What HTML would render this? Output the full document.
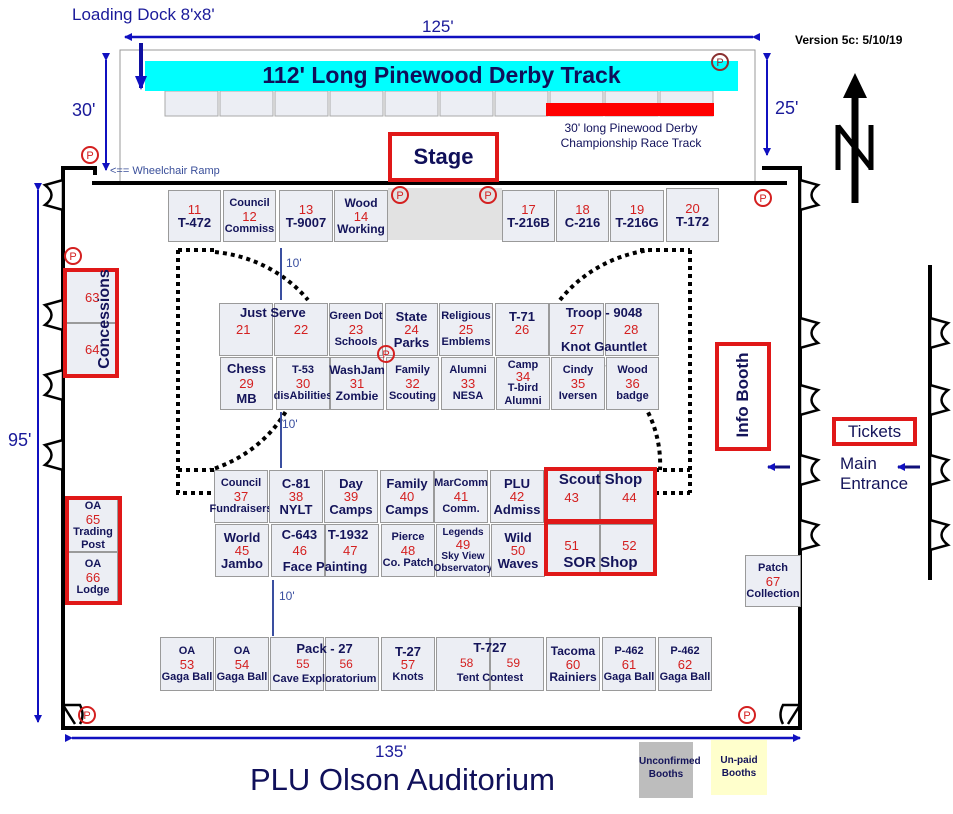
<!DOCTYPE html>
<html><head><meta charset="utf-8"><style>
body{margin:0;width:953px;height:814px;background:#fff;position:relative;overflow:hidden;font-family:"Liberation Sans",sans-serif}
.a{position:absolute}
.b{position:absolute;background:#eceef4;border:1px solid #9a9a9a;box-sizing:border-box;text-align:center;font-weight:bold;color:#14145a;font-size:11px;line-height:13px;display:flex;flex-direction:column;justify-content:center;align-items:center;overflow:visible;white-space:nowrap}
.b i{font-style:normal;font-weight:normal;color:#d42020;font-size:13px}
.big{font-size:13px}
.rb{position:absolute;border:4px solid #e01818;box-sizing:border-box}
</style></head><body>
<svg class="a" style="left:0;top:0" width="953" height="814">
<defs>
<marker id="ah" markerWidth="8" markerHeight="8" refX="7" refY="4" orient="auto" markerUnits="userSpaceOnUse"><path d="M0,0 L8,4 L0,8 z" fill="#1010c0"/></marker>
<marker id="ah2" markerWidth="14" markerHeight="12" refX="12" refY="6" orient="auto" markerUnits="userSpaceOnUse"><path d="M0,0 L14,6 L0,12 z" fill="#1010c0"/></marker>
</defs>
<rect x="120" y="50" width="635" height="132" fill="#fff" stroke="#999" stroke-width="1"/>
<g fill="#eceef4" stroke="#aaa">
<rect x="165" y="91" width="53" height="25"/><rect x="220" y="91" width="53" height="25"/><rect x="275" y="91" width="53" height="25"/><rect x="330" y="91" width="53" height="25"/><rect x="385" y="91" width="53" height="25"/><rect x="440" y="91" width="53" height="25"/><rect x="495" y="91" width="53" height="25"/><rect x="550" y="91" width="53" height="25"/><rect x="605" y="91" width="53" height="25"/><rect x="660" y="91" width="53" height="25"/>
</g>
<rect x="145" y="61" width="593" height="30" fill="#00ffff"/>
<rect x="546" y="103" width="168" height="13" fill="#ff0000"/>
<line x1="753" y1="37" x2="125" y2="37" stroke="#1010c0" stroke-width="2.5" marker-end="url(#ah)" marker-start="url(#ah)"/>
<line x1="141" y1="43" x2="141" y2="88" stroke="#1010a0" stroke-width="4" marker-end="url(#ah2)"/>
<line x1="106" y1="60" x2="106" y2="170" stroke="#1010c0" stroke-width="2" marker-end="url(#ah)" marker-start="url(#ah)"/>
<line x1="767" y1="60" x2="767" y2="155" stroke="#1010c0" stroke-width="2" marker-end="url(#ah)" marker-start="url(#ah)"/>
<line x1="38" y1="190" x2="38" y2="722" stroke="#1010c0" stroke-width="2" marker-end="url(#ah)" marker-start="url(#ah)"/>
<line x1="72" y1="738" x2="800" y2="738" stroke="#1010c0" stroke-width="2.5" marker-end="url(#ah)" marker-start="url(#ah)"/>
<line x1="855" y1="90" x2="855" y2="203" stroke="#000" stroke-width="7"/>
<path d="M843,98 L855,73 L867,98 z" fill="#000"/>
<path d="M838,170 V125 M871,170 V125 M838,126 L871,168" stroke="#000" stroke-width="5" fill="none"/>
<g stroke="#000" stroke-width="4" fill="none">
<path d="M92,183 H787"/>
<path d="M95,175 V168 H63 V728 H800 V168 H762"/>
<path d="M930,265 V580"/>
</g>
<g stroke="#000" stroke-width="2.5" fill="#fff">
<path d="M63,180 L45,185 Q58,195 45,205 L63,210 Z"/>
<path d="M63,300 L45,305 Q58,315 45,325 L63,330 Z"/>
<path d="M63,370 L45,375 Q58,385 45,395 L63,400 Z"/>
<path d="M63,440 L45,445 Q58,455 45,465 L63,470 Z"/>
<path d="M63,705 L75,724 M63,705 L80,705 Q85,715 80,724"/>
<path d="M800,180 L818,185 Q805,195 818,205 L800,210 Z"/>
<path d="M800,318 L818,323 Q805,333 818,343 L800,348 Z"/>
<path d="M800,385 L818,390 Q805,400 818,410 L800,415 Z"/>
<path d="M800,455 L818,460 Q805,470 818,480 L800,485 Z"/>
<path d="M800,520 L818,525 Q805,535 818,545 L800,550 Z"/>
<path d="M800,705 L788,724 M800,705 L783,705 Q778,715 783,724"/>
<path d="M930,318 L948,323 Q935,333 948,343 L930,348 Z"/>
<path d="M930,385 L948,390 Q935,400 948,410 L930,415 Z"/>
<path d="M930,455 L948,460 Q935,470 948,480 L930,485 Z"/>
<path d="M930,520 L948,525 Q935,535 948,545 L930,550 Z"/>
</g>
<rect x="388" y="188" width="114" height="52" fill="#e2e2e2"/>
<g stroke="#000" stroke-width="4" fill="none" stroke-dasharray="4,4">
<path d="M178,250 V493 H215 M178,470 H215"/>
<path d="M178,250 H215"/>
<path d="M690,250 V493 M655,470 H690 M655,493 H690"/>
<path d="M640,250 H690"/>
<path d="M215,252 A135 125 0 0 1 308,300"/>
<path d="M300,375 A135 125 0 0 1 210,470"/>
<path d="M560,300 A135 125 0 0 1 650,250"/>
<path d="M600,360 A135 125 0 0 1 660,470"/>
</g>
<line x1="790" y1="467" x2="768" y2="467" stroke="#10107a" stroke-width="3" marker-end="url(#ah)"/>
<line x1="920" y1="467" x2="898" y2="467" stroke="#10107a" stroke-width="3" marker-end="url(#ah)"/>
</svg>

<div class="a" style="left:72px;top:5px;font-size:17px;color:#1a1a9a">Loading Dock 8'x8'</div>
<div class="a" style="left:422px;top:17px;font-size:17px;color:#1a1a9a">125'</div>
<div class="a" style="left:795px;top:33px;font-size:12px;font-weight:bold">Version 5c: 5/10/19</div>
<div class="a" style="left:145px;top:62px;width:593px;text-align:center;font-size:23px;font-weight:bold;color:#10105a">112' Long Pinewood Derby Track</div>
<div class="a" style="left:546px;top:121px;width:170px;text-align:center;font-size:12px;line-height:15px;color:#10105a">30' long Pinewood Derby<br>Championship Race Track</div>
<div class="a" style="left:72px;top:100px;font-size:18px;color:#1a1a9a">30'</div>
<div class="a" style="left:775px;top:98px;font-size:18px;color:#1a1a9a">25'</div>
<div class="a" style="left:8px;top:430px;font-size:18px;color:#1a1a9a">95'</div>
<div class="a" style="left:375px;top:742px;font-size:17px;color:#1a1a9a">135'</div>
<div class="a" style="left:250px;top:762px;font-size:31px;color:#10105a">PLU Olson Auditorium</div>
<div class="a" style="left:110px;top:165px;font-size:11px;color:#3a4f9a">&lt;== Wheelchair Ramp</div>
<div class="rb" style="left:388px;top:132px;width:111px;height:50px;background:#fff;font-weight:bold;font-size:22px;color:#10105a;text-align:center;line-height:42px">Stage</div>

<div class="b big" style="left:168px;top:190px;width:53px;height:52px"><i>11</i>T-472</div>
<div class="b" style="left:223px;top:190px;width:53px;height:52px">Council<i>12</i>Commiss</div>
<div class="b big" style="left:279px;top:190px;width:54px;height:52px"><i>13</i>T-9007</div>
<div class="b" style="left:334px;top:190px;width:54px;height:52px;font-size:12px">Wood<i>14</i>Working</div>
<div class="b big" style="left:502px;top:190px;width:53px;height:52px"><i>17</i>T-216B</div>
<div class="b big" style="left:556px;top:190px;width:53px;height:52px"><i>18</i>C-216</div>
<div class="b big" style="left:610px;top:190px;width:54px;height:52px"><i>19</i>T-216G</div>
<div class="b big" style="left:666px;top:188px;width:53px;height:54px"><i>20</i>T-172</div>

<div class="b" style="left:219px;top:303px;width:54px;height:53px;align-items:flex-start;justify-content:flex-start;padding:5px 0 0 16px"><i style="margin-top:14px">21</i></div>
<div class="b" style="left:274px;top:303px;width:54px;height:53px;justify-content:flex-start;padding-top:19px"><i>22</i></div>
<div class="a" style="left:240px;top:305px;font-weight:bold;font-size:13px;color:#14145a">Just Serve</div>
<div class="b" style="left:329px;top:303px;width:54px;height:53px">Green Dot<i>23</i>Schools</div>
<div class="b big" style="left:385px;top:303px;width:53px;height:53px">State<i>24</i>Parks</div>
<div class="b" style="left:439px;top:303px;width:54px;height:53px">Religious<i>25</i>Emblems</div>
<div class="b big" style="left:495px;top:303px;width:54px;height:53px;justify-content:flex-start;padding-top:6px">T-71<i>26</i></div>
<div class="b" style="left:549px;top:303px;width:55px;height:53px"></div>
<div class="b" style="left:605px;top:303px;width:54px;height:53px"></div>
<div class="a" style="left:549px;top:304px;width:110px;text-align:center;font-weight:bold;font-size:13px;color:#14145a;line-height:17px">Troop - 9048<br><span style="color:#d42020;font-weight:normal">27&nbsp;&nbsp;&nbsp;&nbsp;&nbsp;&nbsp;&nbsp;&nbsp;&nbsp;&nbsp;&nbsp;28</span><br>Knot Gauntlet</div>

<div class="b" style="left:220px;top:357px;width:53px;height:53px;font-size:13px;line-height:15px">Chess<i>29</i>MB</div>
<div class="b" style="left:276px;top:357px;width:54px;height:53px">T-53<i>30</i>disAbilities</div>
<div class="b" style="left:330px;top:357px;width:54px;height:53px;font-size:12px">WashJam<i>31</i>Zombie</div>
<div class="b" style="left:386px;top:357px;width:53px;height:53px">Family<i>32</i>Scouting</div>
<div class="b" style="left:441px;top:357px;width:54px;height:53px">Alumni<i>33</i>NESA</div>
<div class="b" style="left:496px;top:357px;width:54px;height:53px">Camp<i style="line-height:10px">34</i>T-bird<br>Alumni</div>
<div class="b" style="left:551px;top:357px;width:54px;height:53px">Cindy<i>35</i>Iversen</div>
<div class="b" style="left:606px;top:357px;width:53px;height:53px">Wood<i>36</i>badge</div>

<div class="b" style="left:214px;top:470px;width:54px;height:53px">Council<i>37</i>Fundraisers</div>
<div class="b big" style="left:269px;top:470px;width:54px;height:53px">C-81<i>38</i>NYLT</div>
<div class="b big" style="left:324px;top:470px;width:54px;height:53px">Day<i>39</i>Camps</div>
<div class="b big" style="left:380px;top:470px;width:54px;height:53px">Family<i>40</i>Camps</div>
<div class="b" style="left:434px;top:470px;width:54px;height:53px">MarComm<i>41</i>Comm.</div>
<div class="b big" style="left:490px;top:470px;width:54px;height:53px">PLU<i>42</i>Admiss</div>
<div class="b" style="left:545px;top:470px;width:55px;height:53px"></div>
<div class="b" style="left:600px;top:470px;width:55px;height:53px"></div>

<div class="b big" style="left:215px;top:524px;width:54px;height:53px">World<i>45</i>Jambo</div>
<div class="b" style="left:271px;top:524px;width:54px;height:53px"></div>
<div class="b" style="left:325px;top:524px;width:54px;height:53px"></div>
<div class="a" style="left:271px;top:527px;width:108px;text-align:center;font-weight:bold;font-size:13px;color:#14145a;line-height:16px">C-643&nbsp;&nbsp;&nbsp;T-1932<br><span style="color:#d42020;font-weight:normal">46&nbsp;&nbsp;&nbsp;&nbsp;&nbsp;&nbsp;&nbsp;&nbsp;&nbsp;&nbsp;47</span><br>Face Painting</div>
<div class="b" style="left:381px;top:524px;width:54px;height:53px">Pierce<i>48</i>Co. Patch</div>
<div class="b" style="left:436px;top:524px;width:54px;height:53px;font-size:10px;line-height:12px">Legends<i>49</i>Sky View<br>Observatory</div>
<div class="b big" style="left:491px;top:524px;width:54px;height:53px">Wild<i>50</i>Waves</div>
<div class="b" style="left:545px;top:524px;width:55px;height:52px"></div>
<div class="b" style="left:600px;top:524px;width:55px;height:52px"></div>

<div class="rb" style="left:544px;top:467px;width:113px;height:56px"></div>
<div class="rb" style="left:544px;top:520px;width:113px;height:56px"></div>
<div class="a" style="left:544px;top:471px;width:113px;text-align:center;font-weight:bold;font-size:15px;color:#14145a;line-height:18px">Scout Shop<br><span style="color:#d42020;font-weight:normal;font-size:13px">43&nbsp;&nbsp;&nbsp;&nbsp;&nbsp;&nbsp;&nbsp;&nbsp;&nbsp;&nbsp;&nbsp;&nbsp;44</span></div>
<div class="a" style="left:544px;top:537px;width:113px;text-align:center;font-weight:bold;font-size:15px;color:#14145a;line-height:17px"><span style="color:#d42020;font-weight:normal;font-size:13px">51&nbsp;&nbsp;&nbsp;&nbsp;&nbsp;&nbsp;&nbsp;&nbsp;&nbsp;&nbsp;&nbsp;&nbsp;52</span><br>SOR Shop</div>

<div class="b" style="left:160px;top:637px;width:54px;height:54px">OA<i>53</i>Gaga Ball</div>
<div class="b" style="left:215px;top:637px;width:54px;height:54px">OA<i>54</i>Gaga Ball</div>
<div class="b" style="left:270px;top:637px;width:54px;height:54px"></div>
<div class="b" style="left:325px;top:637px;width:54px;height:54px"></div>
<div class="a" style="left:270px;top:642px;width:109px;text-align:center;font-weight:bold;font-size:11px;color:#14145a;line-height:14px"><span style="font-size:13px">Pack - 27</span><br><span style="color:#d42020;font-weight:normal;font-size:12px">55&nbsp;&nbsp;&nbsp;&nbsp;&nbsp;&nbsp;&nbsp;&nbsp;&nbsp;56</span><br>Cave Exploratorium</div>
<div class="b big" style="left:381px;top:637px;width:54px;height:54px">T-27<i>57</i><span style="font-size:11px">Knots</span></div>
<div class="b" style="left:436px;top:637px;width:54px;height:54px"></div>
<div class="b" style="left:490px;top:637px;width:54px;height:54px"></div>
<div class="a" style="left:436px;top:641px;width:108px;text-align:center;font-weight:bold;font-size:11px;color:#14145a;line-height:14px"><span style="font-size:13px">T-727</span><br><span style="color:#d42020;font-weight:normal;font-size:12px">58&nbsp;&nbsp;&nbsp;&nbsp;&nbsp;&nbsp;&nbsp;&nbsp;&nbsp;&nbsp;59</span><br>Tent Contest</div>
<div class="b" style="left:546px;top:637px;width:54px;height:54px;font-size:12px">Tacoma<i>60</i>Rainiers</div>
<div class="b" style="left:602px;top:637px;width:54px;height:54px">P-462<i>61</i>Gaga Ball</div>
<div class="b" style="left:658px;top:637px;width:54px;height:54px">P-462<i>62</i>Gaga Ball</div>

<div class="b" style="left:66px;top:271px;width:50px;height:52px;align-items:flex-start;padding-left:18px"><i>63</i></div>
<div class="b" style="left:66px;top:323px;width:50px;height:52px;align-items:flex-start;padding-left:18px"><i>64</i></div>
<div class="rb" style="left:63px;top:268px;width:56px;height:110px"></div>
<div class="a" style="left:50px;top:310px;width:110px;text-align:center;transform:rotate(-90deg);font-weight:bold;font-size:16px;color:#14145a">Concessions</div>
<div class="b" style="left:68px;top:499px;width:50px;height:53px">OA<i>65</i>Trading<br>Post</div>
<div class="b" style="left:68px;top:552px;width:50px;height:50px">OA<i>66</i>Lodge</div>
<div class="rb" style="left:65px;top:496px;width:57px;height:109px"></div>

<div class="b" style="left:745px;top:555px;width:56px;height:52px">Patch<i>67</i>Collection</div>
<div class="rb" style="left:715px;top:342px;width:56px;height:109px"></div>
<div class="a" style="left:688px;top:385px;width:110px;text-align:center;transform:rotate(-90deg);font-weight:bold;font-size:17px;color:#14145a">Info Booth</div>
<div class="rb" style="left:832px;top:417px;width:85px;height:29px;font-size:17px;color:#14145a;text-align:center;line-height:22px">Tickets</div>
<div class="a" style="left:840px;top:454px;font-size:17px;color:#14145a;line-height:20px">Main<br>Entrance</div>

<div class="a" style="left:639px;top:742px;width:54px;height:56px;background:#bdbdbd;font-weight:bold;font-size:10px;color:#14145a;text-align:center;line-height:13px;padding-top:13px;box-sizing:border-box">Unconfirmed<br>Booths</div>
<div class="a" style="left:711px;top:740px;width:56px;height:55px;background:#ffffcc;font-weight:bold;font-size:10px;color:#14145a;text-align:center;line-height:13px;padding-top:14px;box-sizing:border-box">Un-paid<br>Booths</div>

<svg class="a" style="left:0;top:0" width="953" height="814">
<g stroke="#3a4fa0" stroke-width="2">
<line x1="281" y1="248" x2="281" y2="300"/><line x1="281" y1="412" x2="281" y2="468"/><line x1="273" y1="580" x2="273" y2="636"/>
</g>
<text x="286" y="267" font-size="12" fill="#3a4fa0" font-family="Liberation Sans">10'</text>
<text x="282" y="428" font-size="12" fill="#3a4fa0" font-family="Liberation Sans">10'</text>
<text x="279" y="600" font-size="12" fill="#3a4fa0" font-family="Liberation Sans">10'</text>
<g fill="none" stroke="#d42020" stroke-width="2">
<circle cx="90" cy="155" r="8"/><circle cx="400" cy="195" r="8"/><circle cx="488" cy="195" r="8"/><circle cx="720" cy="62" r="8" stroke="#8a3030"/><circle cx="763" cy="198" r="8"/><circle cx="73" cy="256" r="8"/><circle cx="386" cy="354" r="8"/><circle cx="87" cy="715" r="8"/><circle cx="747" cy="715" r="8"/>
</g>
<g fill="#d42020" font-size="11" text-anchor="middle" font-family="Liberation Sans">
<text x="90" y="159">P</text><text x="400" y="199">P</text><text x="488" y="199">P</text><text x="720" y="66" fill="#8a3030">P</text><text x="763" y="202">P</text><text x="73" y="260">P</text><text x="386" y="358">P</text><text x="87" y="719">P</text><text x="747" y="719">P</text>
</g>
</svg>
</body></html>
